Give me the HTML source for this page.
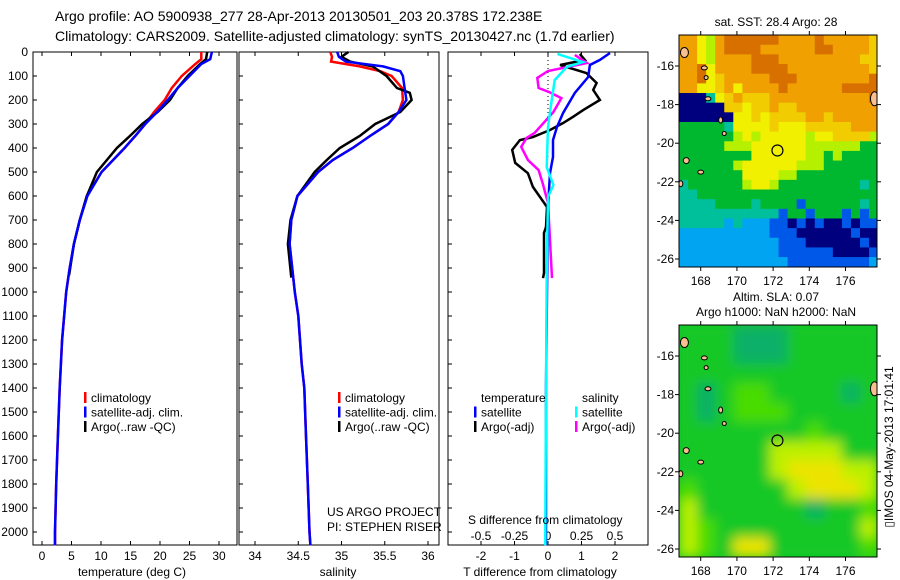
<!DOCTYPE html>
<html><head><meta charset="utf-8"><style>
body{margin:0;background:#fff}
svg{display:block;font-family:"Liberation Sans",sans-serif}
</style></head><body>
<svg id="fig" width="900" height="580" viewBox="0 0 900 580" xmlns="http://www.w3.org/2000/svg">
<defs>
<clipPath id="m1c"><rect x="679" y="35" width="198" height="232"/></clipPath>
<clipPath id="m2c"><rect x="679" y="325" width="198" height="232"/></clipPath>
<filter id="bl" x="-20%" y="-20%" width="140%" height="140%"><feGaussianBlur stdDeviation="6"/></filter>
</defs>
<text x="55" y="21" font-size="14">Argo profile: AO 5900938_277 28-Apr-2013 20130501_203 20.378S 172.238E</text>
<text x="55" y="41" font-size="14">Climatology: CARS2009. Satellite-adjusted climatology: synTS_20130427.nc (1.7d earlier)</text>
<g id="g"></g>
</svg>
<script>
// ---- data ----
const depthTicks=[0,100,200,300,400,500,600,700,800,900,1000,1100,1200,1300,1400,1500,1600,1700,1800,1900,2000];
const tempTicks=[0,5,10,15,20,25,30];
const salTicks=[34,34.5,35,35.5,36];
const salTickLabels=["34","34.5","35","35.5","36"];
const tdTicks=[-2,-1,0,1,2];
const sdTicks=[-0.5,-0.25,0,0.25,0.5];
const sdTickLabels=["-0.5","-0.25","0","0.25","0.5"];

const tClimDepth=[0,30,50,100,150,200,250,300,350,400,500,600,700,800,900,1000,1200,1400,1600,1800,2000,2055];
const tClim=[27,27,26,23.7,22,20.8,19,17.5,15.8,14,10.1,7.6,6.4,5.4,4.7,4.1,3.4,3.0,2.7,2.4,2.2,2.2];
const tSat=[28.8,28.5,27,25,23,21.3,19.5,17.5,15.8,14,10.1,7.7,6.4,5.4,4.7,4.1,3.4,3.0,2.7,2.4,2.2,2.2];
const tArgoDepth=[0,30,50,100,150,200,250,300,350,400,500,600,700,800,930];
const tArgo=[28,27.8,26.8,24.7,23,21.7,19.6,17,14.9,12.7,9.3,7.6,6.4,5.4,4.6];

const sClimDepth=[0,20,40,60,80,100,150,200,250,300,350,400,450,500,600,700,800,900,1000,1100,1200,1300,1400,1600,1800,2000,2055];
const sClim=[34.87,34.89,34.88,35.21,35.45,35.58,35.7,35.71,35.66,35.54,35.33,35.13,34.9,34.73,34.49,34.42,34.40,34.43,34.46,34.5,34.52,34.54,34.57,34.59,34.61,34.63,34.64];
const sSat=[34.95,34.97,35.05,35.48,35.68,35.71,35.73,35.75,35.66,35.54,35.33,35.13,34.9,34.73,34.49,34.42,34.40,34.43,34.46,34.5,34.52,34.54,34.57,34.59,34.61,34.63,34.64];
const sArgoDepth=[0,20,40,60,100,150,170,200,250,300,350,400,450,500,600,700,800,940];
const sArgo=[35.08,35.0,35.1,35.36,35.52,35.64,35.79,35.81,35.68,35.39,35.21,34.98,34.83,34.69,34.49,34.41,34.38,34.42];

const tdSatDepth=[4,33,54,104,171,254,312,367,437,505,646,1000,1400,2000,2055];
const tdSat=[1.85,1.55,1.25,1.2,0.8,0.45,0.27,0.15,0.15,0.06,0,-0.03,-0.06,-0.06,-0.06];
const tdArgoDepth=[8,33,54,88,129,158,200,242,270,296,325,354,367,408,462,505,562,604,646,729,754,921,942];
const tdArgo=[0.95,1.1,0.36,1.15,1.45,1.35,1.55,1.05,0.75,0.45,0.06,-0.45,-0.84,-1.07,-0.98,-0.6,-0.45,-0.24,-0.03,-0.06,-0.12,-0.12,-0.15];
const sdSatDepth=[8,42,62,117,192,312,479,554,604,921,1400,2000,2055];
const sdSat=[0.07,0.26,0.14,0.05,0.03,0,-0.01,0.04,0,-0.01,-0.015,-0.02,-0.02];
const sdArgoDepth=[12,46,79,108,150,167,192,250,312,337,358,395,450,492,546,629,729,942];
const sdArgo=[0.2,0.29,0,-0.08,-0.07,0.01,0.1,0.04,-0.06,-0.1,-0.16,-0.2,-0.15,-0.07,-0.04,0,0.01,0.03];

const lonTicks=[168,170,172,174,176];
const latTicks=[-16,-18,-20,-22,-24,-26];
const argoLon=172.238, argoLat=-20.378;
const sstRows=[
"8865899999988889888887","8865899998888889988887","8865888899988888888877","8896888899998888888887",
"8896788888999888888889","8866786888898888889999","0003678777888888888889","0000077677877888888888",
"0000006676777788788888","4444436666766677777888","4444445656666656677775","4444455566666655555544",
"4444444466666655454444","4444445666666555444444","4444444666655444444444","3444444566544444444434",
"3344444444444444444444","3333444434444144444434","3333333333314414441414","3333323222110101001011",
"2222222222111000000100","2222222222211100000010","2222222222211111100001","2222222222221111111112"];
const slaRows=["bbbaaabbbbb","bbbaaabbbbb","bbbbbbbbbbb","babccbbbbab","babcccbbbbb","bbbbbbbcbbb",
"bbbbbddddbb","bbbbbdeeedd","cbbbbbdeeed","dbbbbbbabbc","dcbbbbbbbbd","dcbeebbbbbc"];
const sstPal={"0":"#00007e","1":"#0058e8","2":"#00a4f0","3":"#00c09c","4":"#00b830","5":"#b4f000","6":"#f0f000","7":"#f0cc00","8":"#f0a000","9":"#d87000"};
const slaPal={a:"#10b068",b:"#14c828",c:"#48dc00",d:"#bcf000",e:"#ece400"};
// ---- helpers ----
const NS="http://www.w3.org/2000/svg", G=document.getElementById('g');
function mk(t,a,p){const e=document.createElementNS(NS,t);for(const k in a)e.setAttribute(k,a[k]);(p||G).appendChild(e);return e;}
const yD=d=>52+d*0.24;
const xT=v=>42+v*5.9, xS=v=>255+(v-34)*86.5, xTd=v=>548+v*33.5, xSd=v=>548+v*134;
function line(xs,ds,fx,col,name,w){
  const p=mk('polyline',{points:xs.map((v,i)=>fx(v).toFixed(1)+','+yD(ds[i]).toFixed(1)).join(' '),fill:'none',stroke:col,'stroke-width':w||2.5});
  
  
}
function txt(x,y,s,o){const e=mk('text',Object.assign({x:x,y:y,'font-size':12},o||{}));e.textContent=s;return e;}
const panels=[[33,239,'temperature-panel'],[239,439,'salinity-panel'],[448,648,'difference-panel']];
panels.forEach(p=>{
  const r=mk('rect',{x:p[0],y:52,width:p[1]-p[0]-(p[0]==33?2:0),height:493,fill:'none',stroke:'#000'});
  
  
  depthTicks.forEach(d=>{mk('line',{x1:p[0],x2:p[0]+4,y1:yD(d),y2:yD(d),stroke:'#000'});});
});
depthTicks.forEach(d=>{const t=txt(28,yD(d)+4,String(d),{'text-anchor':'end'});
  
  });
function xticks(vals,labels,fx,ly){vals.forEach((v,i)=>{mk('line',{x1:fx(v),x2:fx(v),y1:545,y2:541,stroke:'#000'});mk('line',{x1:fx(v),x2:fx(v),y1:52,y2:56,stroke:'#000'});
  const t=txt(fx(v),ly,labels[i],{'text-anchor':'middle'});
  
  });}
xticks(tempTicks,tempTicks.map(String),xT,560);
xticks(salTicks,salTickLabels,xS,560);
xticks(tdTicks,tdTicks.map(String),xTd,560);
sdTicks.forEach((v,i)=>{const t=txt(xSd(v),540,sdTickLabels[i],{'text-anchor':'middle'});
  
  });
mk('line',{x1:548,x2:548,y1:52,y2:yD(450),stroke:'#000','stroke-dasharray':'1,3'});
[[132,'temperature (deg C)'],[338,'salinity'],[540,'T difference from climatology']].forEach(a=>{const t=txt(a[0],576,a[1],{'text-anchor':'middle'});
  
  });
// curves
line(tClim,tClimDepth,xT,'#f00','temp-climatology-line');
line(tArgo,tArgoDepth,xT,'#000','temp-argo-line');
line(tSat,tClimDepth,xT,'#00f','temp-satellite-line');
line(sClim,sClimDepth,xS,'#f00','sal-climatology-line');
line(sArgo,sArgoDepth,xS,'#000','sal-argo-line');
line(sSat,sClimDepth,xS,'#00f','sal-satellite-line');
line(tdArgo,tdArgoDepth,xTd,'#000','tdiff-argo-line');
line(sdArgo,sdArgoDepth,xSd,'#f0f','sdiff-argo-line');
line(tdSat,tdSatDepth,xTd,'#00f','tdiff-satellite-line');
line(sdSat,sdSatDepth,xSd,'#0ff','sdiff-satellite-line');
// legends
function leg(x,y,col,s){mk('rect',{x:x,y:y-10,width:2.5,height:11,fill:col});const t=txt(x+7,y,s);
  
  }
[[84,'#f00','climatology'],[84,'#00f','satellite-adj. clim.'],[84,'#000','Argo(..raw -QC)']].forEach((a,i)=>leg(a[0],402+i*14.5,a[1],a[2]));
[[338,'#f00','climatology'],[338,'#00f','satellite-adj. clim.'],[338,'#000','Argo(..raw -QC)']].forEach((a,i)=>leg(a[0],402+i*14.5,a[1],a[2]));
txt(481,402,'temperature');txt(582,402,'salinity');
leg(474,416.5,'#00f','satellite');leg(474,431,'#000','Argo(-adj)');
leg(575,416.5,'#0ff','satellite');leg(575,431,'#f0f','Argo(-adj)');
txt(327,516,'US ARGO PROJECT');txt(327,531,'PI: STEPHEN RISER');
txt(468,524,'S difference from climatology');
// maps
const xL=l=>679+(l-166.8)*18.1;
function map(top,rows,pal,clip,name,blur){
  const yL=l=>top+31+(-16-l)*19.3;
  const gg=mk('g',{'clip-path':'url(#'+clip+')'});
  
  
  mk('rect',{x:679,y:top,width:198,height:232,fill:blur?'#14c828':'#fff'},gg);
  const inner=blur?mk('g',{filter:'url(#bl)'},gg):gg;
  const nr=rows.length,nc=rows[0].length,dl=11/nc,dt=12/nr;
  rows.forEach((r,i)=>{for(let j=0;j<nc;j++){
    const x0=xL(166.8+j*dl),x1=xL(166.8+(j+1)*dl),y0=yL(-14.4-i*dt),y1=yL(-14.4-(i+1)*dt);
    const c=mk('rect',{x:x0,y:y0,width:x1-x0+0.6,height:y1-y0+0.6,fill:pal[r[j]]},inner);
    
    
  }});
  // islands
  [[167.1,-15.3,4,5],[168.2,-16.1,3,2],[168.3,-16.6,2,2],[168.4,-17.7,3,2],[169.1,-18.8,2,3],[169.3,-19.5,2,2],[167.2,-20.9,3,3],[168,-21.5,3,2],[166.9,-22.1,2,3],[177.6,-17.7,4,7]].forEach(s=>{
    const e=mk('ellipse',{cx:xL(s[0]),cy:yL(s[1]),rx:s[2],ry:s[3],fill:'#f8c090',stroke:'#000','stroke-width':1},gg);
    
    
  });
  const ci=mk('circle',{cx:xL(argoLon),cy:yL(argoLat),r:5.5,fill:'none',stroke:'#000','stroke-width':1.2});
  
  
  mk('rect',{x:679,y:top,width:198,height:232,fill:'none',stroke:'#000'});
  lonTicks.forEach(l=>{mk('line',{x1:xL(l),x2:xL(l),y1:top,y2:top-4,stroke:'#000'});mk('line',{x1:xL(l),x2:xL(l),y1:top+232,y2:top+236,stroke:'#000'});
    const t=txt(xL(l),top+250,String(l),{'text-anchor':'middle'});
    
    });
  latTicks.forEach(l=>{mk('line',{x1:679,x2:675,y1:yL(l),y2:yL(l),stroke:'#000'});mk('line',{x1:877,x2:881,y1:yL(l),y2:yL(l),stroke:'#000'});
    const t=txt(674,yL(l)+4,String(l),{'text-anchor':'end'});
    
    });
}
map(35,sstRows,sstPal,'m1c','sst-map',false);
map(325,slaRows,slaPal,'m2c','sla-map',true);
txt(776,26,'sat. SST: 28.4 Argo: 28',{'text-anchor':'middle'});
txt(776,301,'Altim. SLA: 0.07',{'text-anchor':'middle'});
txt(776,316,'Argo h1000: NaN h2000: NaN',{'text-anchor':'middle'});
const v=txt(0,0,'\u25AFIMOS 04-May-2013 17:01:41',{'text-anchor':'middle',transform:'translate(893,447) rotate(-90)'});


</script>
</body></html>
